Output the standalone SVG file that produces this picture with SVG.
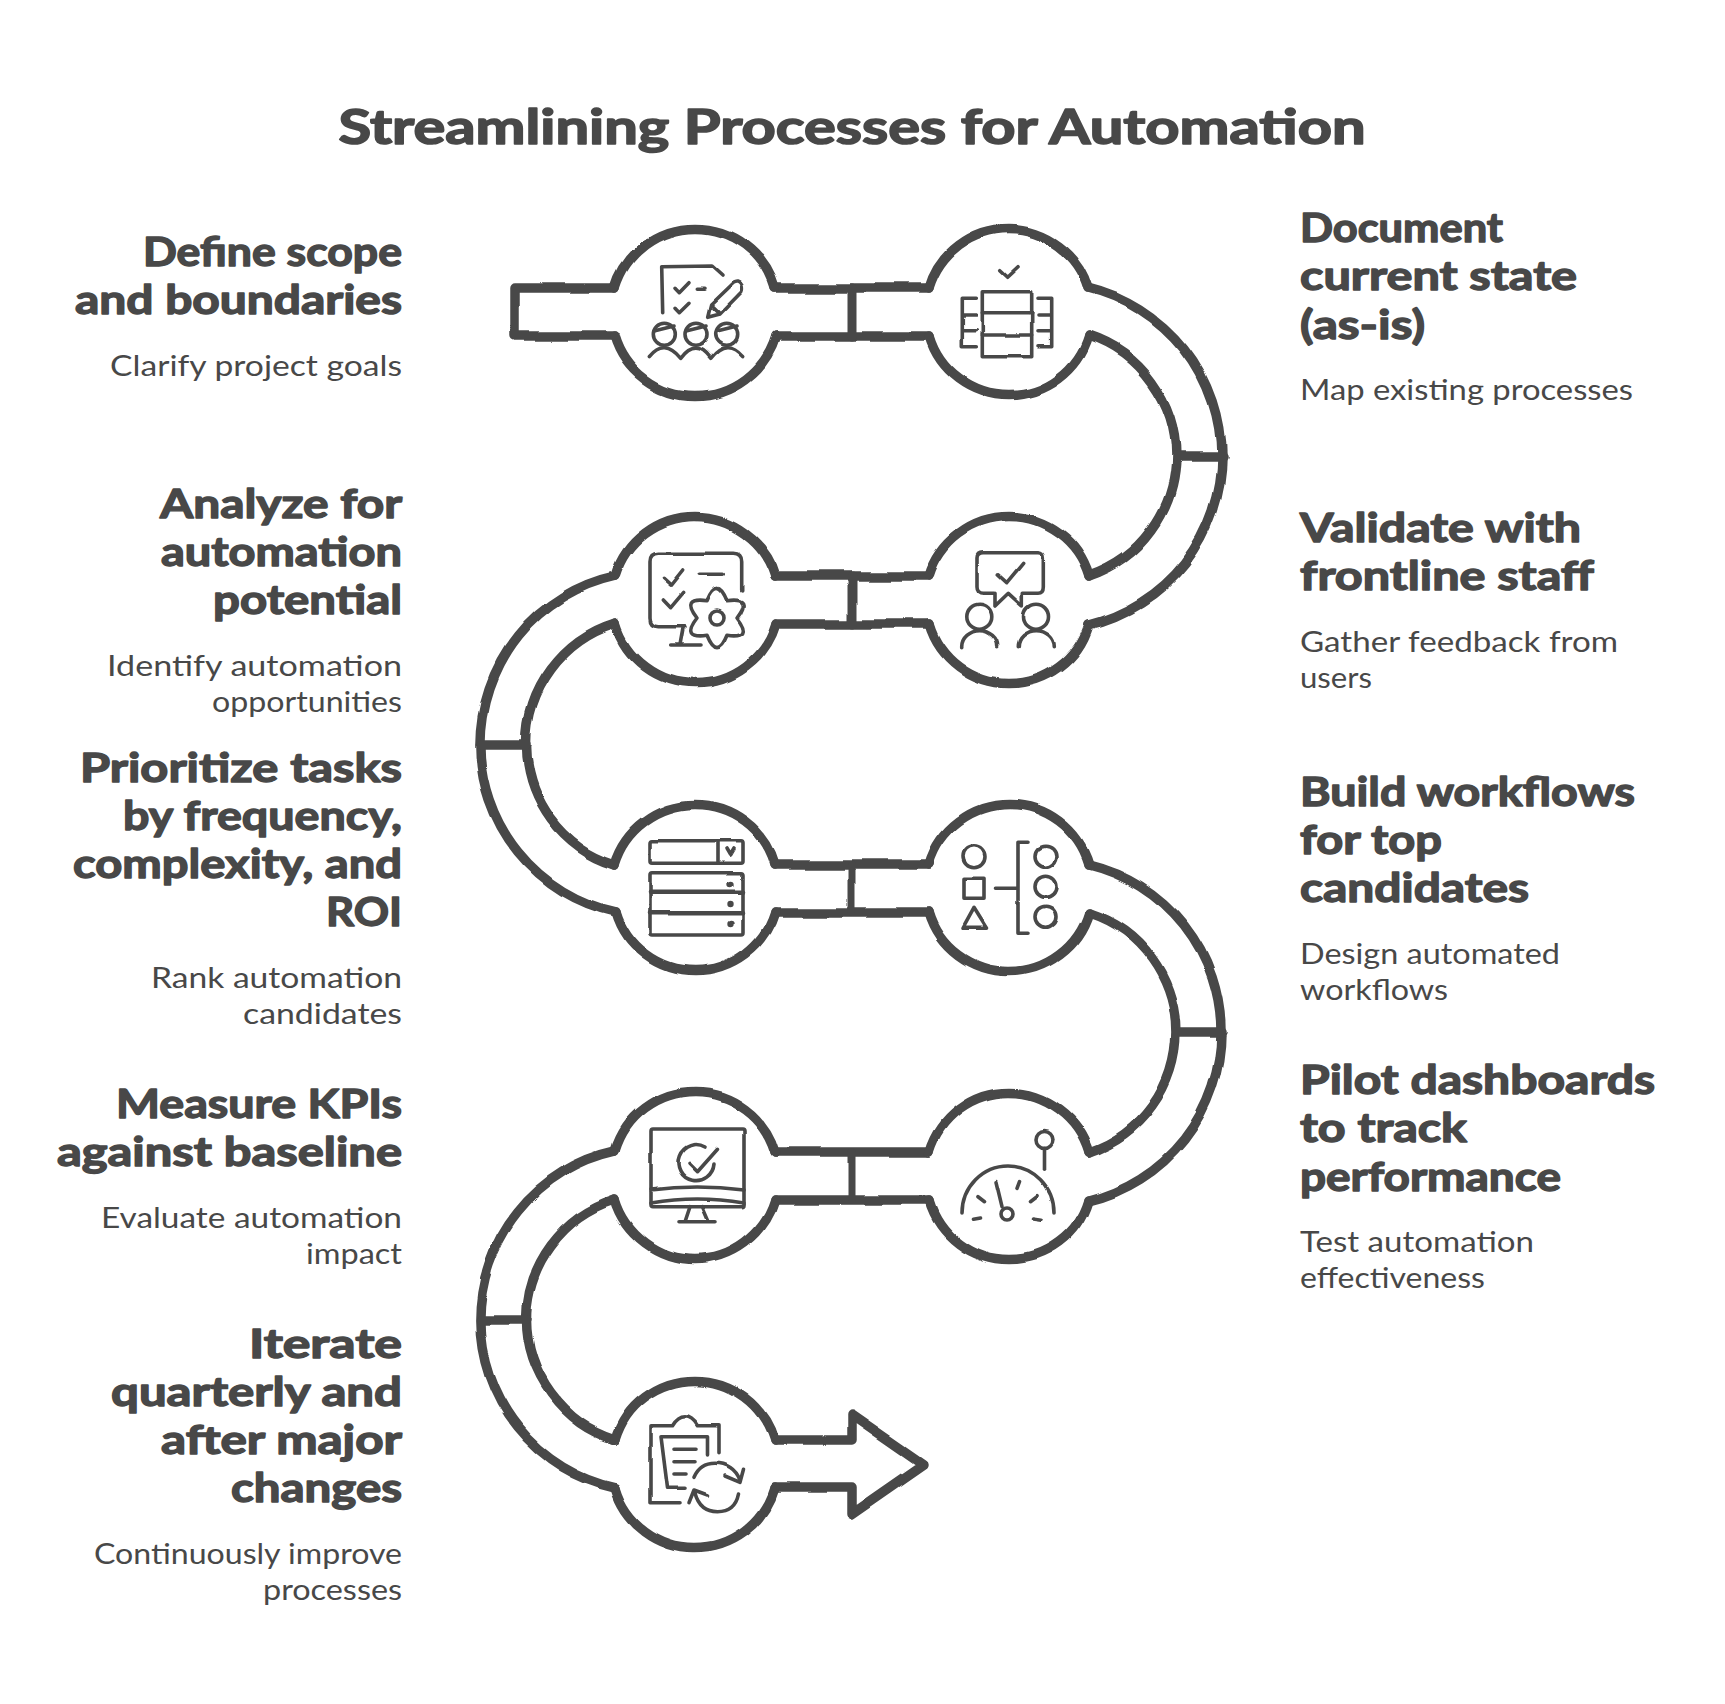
<svg xmlns="http://www.w3.org/2000/svg" width="1725" height="1704" viewBox="0 0 1725 1704">
<style>
text{font-family:"Lato","Noto Sans","Liberation Sans",sans-serif;fill:#484848}
.t{font-size:48px;font-weight:700;text-anchor:middle;stroke:#484848;stroke-width:1.6px;stroke-linejoin:round}
.h{font-size:40px;font-weight:700;stroke:#484848;stroke-width:1.4px;stroke-linejoin:round}
.s{font-size:28px;font-weight:400}
.l{text-anchor:end}
.o{fill:none;stroke:#484848;stroke-width:9.5;stroke-linejoin:round;stroke-linecap:round}
.i{fill:none;stroke:#484848;stroke-width:3.6;stroke-linejoin:round;stroke-linecap:round}
.d{fill:#484848;stroke:none}
</style>
<defs>
<filter id="w" filterUnits="userSpaceOnUse" x="0" y="0" width="1725" height="1704" color-interpolation-filters="sRGB">
<feTurbulence type="fractalNoise" baseFrequency="0.014" numOctaves="2" seed="7" result="n"/>
<feDisplacementMap in="SourceGraphic" in2="n" scale="7" xChannelSelector="R" yChannelSelector="G"/>
<feGaussianBlur stdDeviation="0.4"/>
</filter>
<filter id="v" filterUnits="userSpaceOnUse" x="0" y="0" width="1725" height="1704" color-interpolation-filters="sRGB">
<feTurbulence type="fractalNoise" baseFrequency="0.03" numOctaves="2" seed="3" result="n"/>
<feDisplacementMap in="SourceGraphic" in2="n" scale="2.5" xChannelSelector="R" yChannelSelector="G"/>
<feGaussianBlur stdDeviation="0.3"/>
</filter>
</defs>
<rect width="1725" height="1704" fill="#fff"/>
<text class="t" x="852" y="144" textLength="1027" lengthAdjust="spacingAndGlyphs">Streamlining Processes for Automation</text>

<g id="connectors" class="o" filter="url(#w)">
<path d="M615 288H515V336H615"/>
<path d="M775 288H929M775 336H929"/><path d="M852 288V336" stroke-width="9"/>
<path d="M1089 288A172.9 172.9 0 0 1 1089 624M1089 336A126.3 126.3 0 0 1 1089 576"/><path d="M1177 456H1222"/>
<path d="M775 576H929M775 624H929"/><path d="M853 576V624" stroke-width="9"/>
<path d="M615 576A172 172 0 0 0 615 912M615 624A125.6 125.6 0 0 0 615 864"/><path d="M481 744H527"/>
<path d="M775 864H929M775 912H929"/><path d="M852 864V912" stroke-width="7"/>
<path d="M1089 864A172.9 172.9 0 0 1 1089 1200M1089 912A126.3 126.3 0 0 1 1089 1152"/><path d="M1177 1032H1222"/>
<path d="M775 1152H929M775 1200H929"/><path d="M852 1152V1200" stroke-width="7"/>
<path d="M615 1152A172 172 0 0 0 615 1488M615 1200A125.6 125.6 0 0 0 615 1440"/><path d="M481 1320H527"/>
<path d="M775 1440H852V1414L924 1464L852 1514V1488H775"/>
</g>

<g id="node-1">
<path class="o" filter="url(#w)" d="M615 288A83.5 83.5 0 0 1 775 288M615 336A83.5 83.5 0 0 0 775 336"/>
<g class="i" filter="url(#v)">
<path d="M662.7 312.7L661.7 266.7L713 266L723 275"/>
<path d="M675 288.3L679.3 292.7L689 282.7M675 308.3L679.3 312.7L689 303.3M697.3 289.3H705"/>
<path d="M707.7 317.3L710.7 305L733.3 283.3Q739 280 741.7 285Q743 289 741.7 291.7L720 314ZM710.7 305L720 314"/>
<circle cx="664.3" cy="334.3" r="11"/><circle cx="696" cy="334.3" r="11"/><circle cx="726.7" cy="334.3" r="11"/>
<path d="M654 331L674 326M686 331L706 326M717 331L737 326"/>
<path d="M649.3 356.7Q664 338 680.7 358.3Q696 338 710.7 358.3Q726.7 338 742.7 356.7"/>
</g>
<text class="h l" x="402" y="266" textLength="259" lengthAdjust="spacingAndGlyphs">Define scope</text>
<text class="h l" x="402" y="314" textLength="327" lengthAdjust="spacingAndGlyphs">and boundaries</text>
<text class="s l" x="402" y="376" textLength="292" lengthAdjust="spacingAndGlyphs">Clarify project goals</text>
</g>

<g id="node-2">
<path class="o" filter="url(#w)" d="M929 288A83.5 83.5 0 0 1 1089 288M929 336A83.5 83.5 0 0 0 1089 336"/>
<g class="i" filter="url(#v)" transform="translate(-1 0)">
<path d="M1000.7 270.7L1007.7 277.3L1019 266.7"/>
<rect x="983.3" y="291.7" width="49.4" height="65"/>
<path d="M983.3 312.7H1032.7M983.3 335H1032.7"/>
<path d="M977.3 298.3H963.3V346.7H977.3M963.3 315H977.3M963.3 330.7H977.3"/>
<path d="M1039 298.3H1052.7V346.7H1039M1039 315H1052.7M1039 330.7H1052.7"/>
</g>
<text class="h" x="1300" y="242" textLength="203" lengthAdjust="spacingAndGlyphs">Document</text>
<text class="h" x="1300" y="290" textLength="277" lengthAdjust="spacingAndGlyphs">current state</text>
<text class="h" x="1300" y="339" textLength="125" lengthAdjust="spacingAndGlyphs">(as-is)</text>
<text class="s" x="1300" y="400" textLength="333" lengthAdjust="spacingAndGlyphs">Map existing processes</text>
</g>

<g id="node-3">
<path class="o" filter="url(#w)" d="M615 576A83.5 83.5 0 0 1 775 576M615 624A83.5 83.5 0 0 0 775 624"/>
<g class="i" filter="url(#v)">
<path d="M741.7 590V561.7Q741.7 553.3 733.3 553.3H658.3Q650 553.3 650 561.7V618.3Q650 626.7 658.3 626.7H685"/>
<path d="M683.3 626.7L680 645M670.7 645H701"/>
<path d="M663.3 578.3L670.7 585L682.7 570M663.3 600L670.7 607.7L682.7 593.3M699.3 574.3H723.3"/>
<path d="M707 600.7Q717 576 727 600.7Q753.4 597 737 618Q753.4 639 727 635.3Q717 660 707 635.3Q680.6 639 697 618Q680.6 597 707 600.7Z"/>
<circle cx="717" cy="618" r="7"/>
</g>
<text class="h l" x="402" y="518" textLength="242" lengthAdjust="spacingAndGlyphs">Analyze for</text>
<text class="h l" x="402" y="566" textLength="241" lengthAdjust="spacingAndGlyphs">automation</text>
<text class="h l" x="402" y="614" textLength="189" lengthAdjust="spacingAndGlyphs">potential</text>
<text class="s l" x="402" y="676" textLength="295" lengthAdjust="spacingAndGlyphs">Identify automation</text>
<text class="s l" x="402" y="712" textLength="190" lengthAdjust="spacingAndGlyphs">opportunities</text>
</g>

<g id="node-4">
<path class="o" filter="url(#w)" d="M929 576A83.5 83.5 0 0 1 1089 576M929 624A83.5 83.5 0 0 0 1089 624"/>
<g class="i" filter="url(#v)">
<path d="M994 593.3H983Q977 593 977 587V558Q977 552.7 983 552.7H1038Q1043.3 552.7 1043.3 558V587Q1043.3 593.3 1038 593.3H1022.3V606L1008.3 593.3L995 606V593.3"/>
<path d="M998.3 575L1006.7 582.7L1022.7 563.3"/>
<circle cx="979.3" cy="616.7" r="12.5"/><circle cx="1036" cy="616.7" r="12.5"/>
<path d="M961.7 646.7A18 16 0 0 1 997.7 646.7M1018.3 646.7A18 16 0 0 1 1054.3 646.7"/>
</g>
<text class="h" x="1300" y="542" textLength="281" lengthAdjust="spacingAndGlyphs">Validate with</text>
<text class="h" x="1300" y="590" textLength="294" lengthAdjust="spacingAndGlyphs">frontline staff</text>
<text class="s" x="1300" y="652" textLength="318" lengthAdjust="spacingAndGlyphs">Gather feedback from</text>
<text class="s" x="1300" y="688" textLength="72" lengthAdjust="spacingAndGlyphs">users</text>
</g>

<g id="node-5">
<path class="o" filter="url(#w)" d="M615 864A83.5 83.5 0 0 1 775 864M615 912A83.5 83.5 0 0 0 775 912"/>
<g class="i" filter="url(#v)" transform="translate(-1 0)">
<rect x="651" y="840.7" width="93" height="22.6" rx="2"/>
<path d="M719 840.7V863.3M728 849L731.5 855L735 849"/>
<rect x="651" y="872.7" width="93" height="62.3" rx="2"/>
<path d="M651 891.7H744M651 913.3H744" stroke-width="4.6"/>
<circle class="d" cx="731.5" cy="884" r="3.2"/><circle class="d" cx="731.5" cy="904" r="3.2"/><circle class="d" cx="731.5" cy="924" r="3.2"/>
</g>
<text class="h l" x="402" y="782" textLength="322" lengthAdjust="spacingAndGlyphs">Prioritize tasks</text>
<text class="h l" x="402" y="830" textLength="279" lengthAdjust="spacingAndGlyphs">by frequency,</text>
<text class="h l" x="402" y="878" textLength="329" lengthAdjust="spacingAndGlyphs">complexity, and</text>
<text class="h l" x="402" y="926" textLength="76" lengthAdjust="spacingAndGlyphs">ROI</text>
<text class="s l" x="402" y="988" textLength="251" lengthAdjust="spacingAndGlyphs">Rank automation</text>
<text class="s l" x="402" y="1024" textLength="159" lengthAdjust="spacingAndGlyphs">candidates</text>
</g>

<g id="node-6">
<path class="o" filter="url(#w)" d="M929 864A83.5 83.5 0 0 1 1089 864M929 912A83.5 83.5 0 0 0 1089 912"/>
<g class="i" filter="url(#v)" transform="translate(-2 0)">
<circle cx="976" cy="856.7" r="11"/>
<rect x="966" y="878.3" width="20" height="20"/>
<path d="M976 908.3L965 928.3H988.5Z"/>
<path d="M997.5 888.3H1020M1030 842.3H1020V933.3H1030"/>
<circle cx="1047.5" cy="856.7" r="10.5"/><circle cx="1047.5" cy="886.7" r="10.5"/><circle cx="1047.5" cy="916.7" r="10.5"/>
</g>
<text class="h" x="1300" y="806" textLength="335" lengthAdjust="spacingAndGlyphs">Build workflows</text>
<text class="h" x="1300" y="854" textLength="142" lengthAdjust="spacingAndGlyphs">for top</text>
<text class="h" x="1300" y="902" textLength="229" lengthAdjust="spacingAndGlyphs">candidates</text>
<text class="s" x="1300" y="964" textLength="260" lengthAdjust="spacingAndGlyphs">Design automated</text>
<text class="s" x="1300" y="1000" textLength="148" lengthAdjust="spacingAndGlyphs">workflows</text>
</g>

<g id="node-7">
<path class="o" filter="url(#w)" d="M615 1152A83.5 83.5 0 0 1 775 1152M615 1200A83.5 83.5 0 0 0 775 1200"/>
<g class="i" filter="url(#v)">
<rect x="651" y="1129" width="93" height="77.7" rx="2"/>
<path d="M651 1190Q697 1184 744 1190M651 1203Q697 1195 744 1203"/>
<path d="M690 1206.7L685 1221.7M702.5 1206.7L709 1221.7M679 1221.7H715"/>
<path d="M705 1147A18 18 0 1 0 714 1164"/>
<path d="M689 1163.3L697.5 1171.7L717.5 1149.3"/>
</g>
<text class="h l" x="402" y="1118" textLength="286" lengthAdjust="spacingAndGlyphs">Measure KPIs</text>
<text class="h l" x="402" y="1166" textLength="345" lengthAdjust="spacingAndGlyphs">against baseline</text>
<text class="s l" x="402" y="1228" textLength="301" lengthAdjust="spacingAndGlyphs">Evaluate automation</text>
<text class="s l" x="402" y="1264" textLength="96" lengthAdjust="spacingAndGlyphs">impact</text>
</g>

<g id="node-8">
<path class="o" filter="url(#w)" d="M929 1152A83.5 83.5 0 0 1 1089 1152M929 1200A83.5 83.5 0 0 0 1089 1200"/>
<g class="i" filter="url(#v)" transform="translate(-3 0)">
<path d="M965 1213A46 47 0 0 1 1057 1213"/>
<path d="M999 1181.7L1005 1206.7"/><circle cx="1010" cy="1214" r="6"/>
<path d="M981 1196.7L987.5 1201.7M1022.5 1181.7L1020 1188.3M1040 1196.7L1033.5 1201.7M976.5 1219.3L983.5 1218M1036.5 1218L1045 1219.3"/>
<circle cx="1047.5" cy="1140" r="8.5"/><path d="M1047.5 1148.3V1169.3"/>
</g>
<text class="h" x="1300" y="1094" textLength="355" lengthAdjust="spacingAndGlyphs">Pilot dashboards</text>
<text class="h" x="1300" y="1142" textLength="167" lengthAdjust="spacingAndGlyphs">to track</text>
<text class="h" x="1300" y="1191" textLength="261" lengthAdjust="spacingAndGlyphs">performance</text>
<text class="s" x="1300" y="1252" textLength="234" lengthAdjust="spacingAndGlyphs">Test automation</text>
<text class="s" x="1300" y="1288" textLength="185" lengthAdjust="spacingAndGlyphs">effectiveness</text>
</g>

<g id="node-9">
<path class="o" filter="url(#w)" d="M615 1440A83.5 83.5 0 0 1 775 1440M615 1488A83.5 83.5 0 0 0 775 1488"/>
<g class="i" filter="url(#v)">
<path d="M719 1452.7V1425.7H697.5Q692 1416.7 685 1416.7Q678 1416.7 672.5 1425.7H651V1502.7H680"/>
<path d="M707.5 1455V1436.7H661L667.5 1488.3H685"/>
<path d="M674 1449.3H696M674 1461.7H695M674 1474H686"/>
<path d="M694 1477.3Q700 1463.3 715 1463.3Q733 1463.3 740 1480M725 1476L740 1482.3L743.5 1469.3"/>
<path d="M738.5 1494Q735 1511.7 717.5 1511.7Q700 1511.7 695 1493.3M689 1502.7L694 1490L707.5 1495"/>
</g>
<text class="h l" x="402" y="1358" textLength="153" lengthAdjust="spacingAndGlyphs">Iterate</text>
<text class="h l" x="402" y="1406" textLength="291" lengthAdjust="spacingAndGlyphs">quarterly and</text>
<text class="h l" x="402" y="1454" textLength="241" lengthAdjust="spacingAndGlyphs">after major</text>
<text class="h l" x="402" y="1502" textLength="171" lengthAdjust="spacingAndGlyphs">changes</text>
<text class="s l" x="402" y="1564" textLength="308" lengthAdjust="spacingAndGlyphs">Continuously improve</text>
<text class="s l" x="402" y="1600" textLength="139" lengthAdjust="spacingAndGlyphs">processes</text>
</g>
</svg>
